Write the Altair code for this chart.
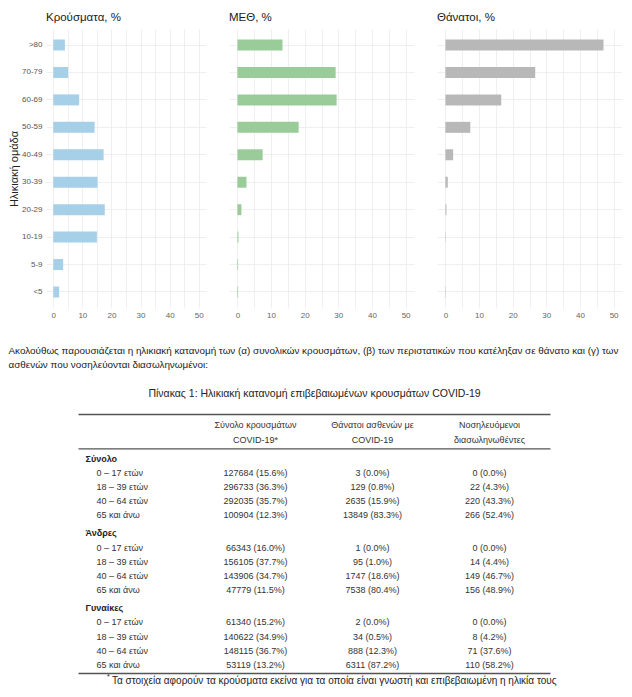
import altair as alt
import pandas as pd

FONT = "Liberation Sans"

# ---------------- bar chart data ----------------
age_groups = ["<5", "5-9", "10-19", "20-29", "30-39", "40-49", "50-59", "60-69", "70-79", ">80"]
cases_pct = [2.0, 3.4, 15.0, 17.7, 15.2, 17.3, 14.2, 8.9, 5.1, 4.0]
icu_pct = [0.2, 0.2, 0.3, 1.2, 2.7, 7.5, 18.2, 29.5, 29.2, 13.4]
deaths_pct = [0.1, 0.0, 0.1, 0.3, 0.7, 2.3, 7.4, 16.6, 26.7, 47.0]

panel_titles = ["Κρούσματα, %", "ΜΕΘ, %", "Θάνατοι, %"]
panel_colors = ["#a6cfe8", "#99cc99", "#b8b8b8"]
y_title = "Ηλικιακή ομάδα"
x_ticks = [0, 5, 10, 15, 20, 25, 30, 35, 40, 45, 50]

# ---------------- text / table data ----------------
para_lines = [
    "Ακολούθως παρουσιάζεται η ηλικιακή κατανομή των (α) συνολικών κρουσμάτων, (β) των περιστατικών που κατέληξαν σε θάνατο και (γ) των",
    "ασθενών που νοσηλεύονται διασωληνωμένοι:",
]
table_title = "Πίνακας 1: Ηλικιακή κατανομή επιβεβαιωμένων κρουσμάτων COVID-19"
col_keys = ["cases", "deaths", "icu"]
header_line1 = ["Σύνολο κρουσμάτων", "Θάνατοι ασθενών με", "Νοσηλευόμενοι"]
header_line2 = ["COVID-19*", "COVID-19", "διασωληνωθέντες"]
table_groups = ["Σύνολο", "Άνδρες", "Γυναίκες"]
table_ages = ["0 – 17 ετών", "18 – 39 ετών", "40 – 64 ετών", "65 και άνω"]

cases_n = [[127684, 296733, 292035, 100904], [66343, 156105, 143906, 47779], [61340, 140622, 148115, 53119]]
cases_p = [[15.6, 36.3, 35.7, 12.3], [16.0, 37.7, 34.7, 11.5], [15.2, 34.9, 36.7, 13.2]]
deaths_n = [[3, 129, 2635, 13849], [1, 95, 1747, 7538], [2, 34, 888, 6311]]
deaths_p = [[0.0, 0.8, 15.9, 83.3], [0.0, 1.0, 18.6, 80.4], [0.0, 0.5, 12.3, 87.2]]
icu_n = [[0, 22, 220, 266], [0, 14, 149, 156], [0, 8, 71, 110]]
icu_p = [[0.0, 4.3, 43.3, 52.4], [0.0, 4.4, 46.7, 48.9], [0.0, 4.2, 37.6, 58.2]]
footnote = "Τα στοιχεία αφορούν τα κρούσματα εκείνα για τα οποία είναι γνωστή και επιβεβαιωμένη η ηλικία τους"

# ---------------- layout constants ----------------
GRID = "#ebebeb"
PLOT_H = 279
ROW_PX = 14.2                    # pixels per table row unit
U_MAX = PLOT_H / ROW_PX          # row-unit domain spanning the plot height
# vertical positions of the lower block, in row units below the plot top
PARA_U = [22.71, 23.63]
TITLE_U = 25.67
RULE_U = [27.15, 29.57, 45.39]
HEAD_U = [27.9, 28.96]
FIRST_ROW_U = 30.25
GROUP_STEP = 5.27
FOOT_U = 45.92
STAR_U = 45.62
# horizontal positions (pixels from the first panel's plot edge)
PARA_X = -37.5
TITLE_X = 268.5
RULE_X = (32.5, 504.5)
GROUP_X = 39.5
SUB_X = 50.5
COL_RANGE = [209.5, 443.5]
STAR_X = 61
FOOT_X = 66

YS = alt.Scale(domain=[0, U_MAX], reverse=True, nice=False, zero=False)
XS = alt.Scale(type="point", domain=col_keys, range=COL_RANGE, padding=0)


def bar_layer(values, color, show_y):
    df = pd.DataFrame({"age": age_groups, "pct": values})
    if show_y:
        y_axis = alt.Axis(title=y_title, labelFontSize=8, labelColor="#555555", labelPadding=4,
                          titleFontSize=11, titleFontWeight="normal", titleColor="#222222",
                          titlePadding=2, ticks=False, domain=False, grid=True, gridColor=GRID,
                          gridWidth=0.8, bandPosition=0.5)
    else:
        y_axis = alt.Axis(title=None, labels=False, ticks=False, domain=False, grid=True,
                          gridColor=GRID, gridWidth=0.8, bandPosition=0.5)
    x_axis = alt.Axis(values=x_ticks, title=None, labelExpr="datum.value % 10 === 0 ? datum.label : ''",
                      labelFontSize=8, labelColor="#666666", labelPadding=3, labelOverlap=False,
                      ticks=False, domain=False, grid=True, gridColor=GRID, gridWidth=0.8)
    return (
        alt.Chart(df)
        .mark_bar(color=color)
        .encode(
            y=alt.Y("age:N", sort=list(reversed(age_groups)),
                    scale=alt.Scale(paddingInner=0.6, paddingOuter=0.383), axis=y_axis),
            x=alt.X("pct:Q", scale=alt.Scale(domain=[-2.5, 52.5], nice=False, zero=False), axis=x_axis),
            x2=alt.datum(0),
        )
    )


def panel_title(t):
    return alt.TitleParams(t, anchor="start", frame="group", fontSize=11.5, font=FONT,
                           fontWeight="normal", color="#1a1a1a", offset=6)


# ---------------- lower text + table layers ----------------
def y_u():
    return alt.Y("u:Q", scale=YS, axis=None)


para = alt.Chart(pd.DataFrame({"text": para_lines, "u": PARA_U})).mark_text(
    align="left", baseline="middle", fontSize=9.9, color="#1a1a1a", font=FONT).encode(
    x=alt.value(PARA_X), y=y_u(), text="text:N")

ttl = alt.Chart(pd.DataFrame({"text": [table_title], "u": [TITLE_U]})).mark_text(
    align="center", baseline="middle", fontSize=10.5, color="#222222", font=FONT).encode(
    x=alt.value(TITLE_X), y=y_u(), text="text:N")

rules = alt.Chart(pd.DataFrame({"u": RULE_U})).mark_rule(color="#555555", strokeWidth=1.4).encode(
    x=alt.value(RULE_X[0]), x2=alt.value(RULE_X[1]), y=y_u())

head_rows = []
for i, k in enumerate(col_keys):
    head_rows.append({"col": k, "u": HEAD_U[0], "text": header_line1[i]})
    head_rows.append({"col": k, "u": HEAD_U[1], "text": header_line2[i]})
heads = alt.Chart(pd.DataFrame(head_rows)).mark_text(
    align="center", baseline="middle", fontSize=9, color="#333333", font=FONT).encode(
    x=alt.X("col:N", scale=XS, axis=None), y=y_u(), text="text:N")

grp_rows, sub_rows, cell_rows = [], [], []
series = {"cases": (cases_n, cases_p), "deaths": (deaths_n, deaths_p), "icu": (icu_n, icu_p)}
for g, gname in enumerate(table_groups):
    base = FIRST_ROW_U + g * GROUP_STEP
    grp_rows.append({"text": gname, "u": base})
    for a, aname in enumerate(table_ages):
        u = base + a + 1
        sub_rows.append({"text": aname, "u": u})
        for k in col_keys:
            n, p = series[k]
            cell_rows.append({"col": k, "u": u, "text": f"{n[g][a]} ({p[g][a]:.1f}%)"})

grp = alt.Chart(pd.DataFrame(grp_rows)).mark_text(
    align="left", baseline="middle", fontSize=9, fontWeight="bold", color="#222222", font=FONT).encode(
    x=alt.value(GROUP_X), y=y_u(), text="text:N")
sub = alt.Chart(pd.DataFrame(sub_rows)).mark_text(
    align="left", baseline="middle", fontSize=9, color="#333333", font=FONT).encode(
    x=alt.value(SUB_X), y=y_u(), text="text:N")
cells = alt.Chart(pd.DataFrame(cell_rows)).mark_text(
    align="center", baseline="middle", fontSize=9, color="#333333", font=FONT).encode(
    x=alt.X("col:N", scale=XS, axis=None), y=y_u(), text="text:N")

star = alt.Chart(pd.DataFrame({"text": ["*"], "u": [STAR_U]})).mark_text(
    align="left", baseline="middle", fontSize=7, color="#222222", font=FONT).encode(
    x=alt.value(STAR_X), y=y_u(), text="text:N")
foot = alt.Chart(pd.DataFrame({"text": [footnote], "u": [FOOT_U]})).mark_text(
    align="left", baseline="middle", fontSize=10, color="#222222", font=FONT).encode(
    x=alt.value(FOOT_X), y=y_u(), text="text:N")

# ---------------- panels ----------------
c1 = (
    alt.layer(bar_layer(cases_pct, panel_colors[0], True), para, ttl, rules, heads, grp, sub, cells, star, foot)
    .resolve_scale(x="independent", y="independent")
    .properties(width=160, height=PLOT_H, title=panel_title(panel_titles[0]))
)
c2 = bar_layer(icu_pct, panel_colors[1], False).properties(
    width=185, height=PLOT_H, title=panel_title(panel_titles[1]))
c3 = bar_layer(deaths_pct, panel_colors[2], False).properties(
    width=185, height=PLOT_H, title=panel_title(panel_titles[2]))

chart = (
    alt.hconcat(c1, c2, c3, spacing=23, bounds="flush")
    .properties(padding={"left": 0, "top": 3, "right": 0, "bottom": 0})
    .configure(font=FONT)
    .configure_view(strokeWidth=0)
)

chart.save("out.html", embed_options={"renderer": "svg", "actions": False})
